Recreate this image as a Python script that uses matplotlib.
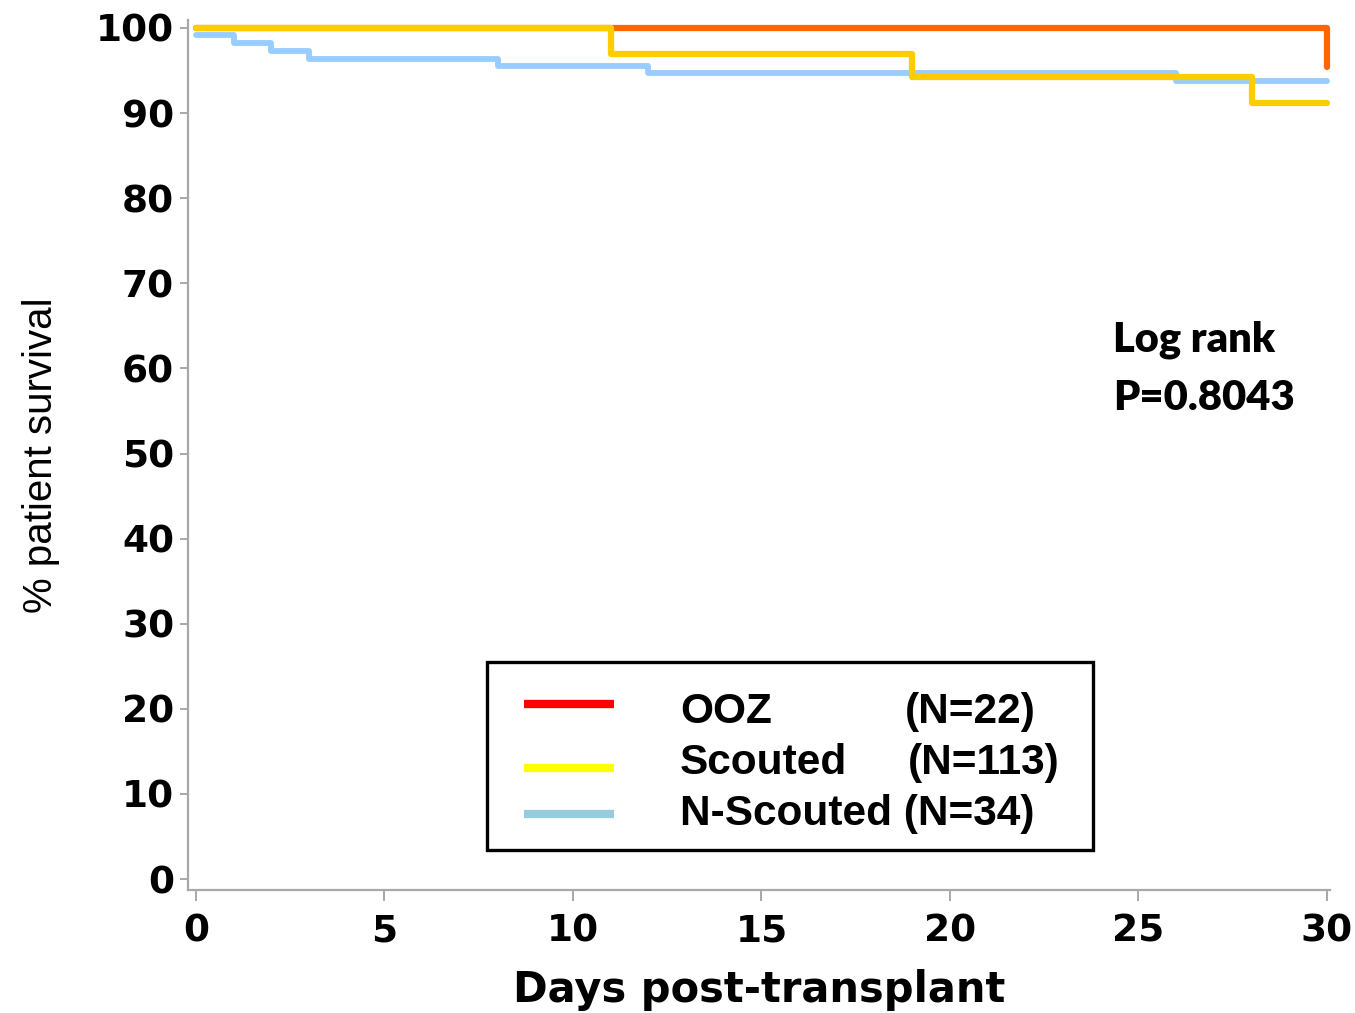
import matplotlib
matplotlib.use("Agg")
import matplotlib.pyplot as plt
from matplotlib.patches import Rectangle
from matplotlib.lines import Line2D

# ---- data ----
ooz_days = [0, 30, 30]
ooz_surv = [100, 100, 95.4]
scouted_days = [0, 11, 19, 28, 30]
scouted_surv = [100, 97.0, 94.2, 91.2, 91.2]
nscout_days = [0, 1, 2, 3, 8, 12, 26, 30]
nscout_surv = [99.2, 98.2, 97.3, 96.4, 95.5, 94.7, 93.8, 93.8]

group_names = ["OOZ", "Scouted", "N-Scouted"]
group_counts = ["(N=22)", "(N=113)", "(N=34)"]
x_ticks = [0, 5, 10, 15, 20, 25, 30]
y_ticks = [0, 10, 20, 30, 40, 50, 60, 70, 80, 90, 100]

W, H = 1355, 1013
fig = plt.figure(figsize=(W / 100, H / 100), dpi=100)
L, R, T, B = 188, 1330, 20, 890
ax = fig.add_axes([L / W, 1 - B / H, (R - L) / W, (B - T) / H])

ax.step(ooz_days, ooz_surv, where="post", color="#FF6600", lw=4.5,
        solid_capstyle="round", zorder=2, clip_on=False)
ax.step(nscout_days, nscout_surv, where="post", color="#99CCFF", lw=4.2,
        solid_capstyle="round", zorder=3, clip_on=False)
ax.step(scouted_days, scouted_surv, where="post", color="#FFCC00", lw=4.5,
        solid_capstyle="round", zorder=4, clip_on=False)

ax.set_xlim(-0.212, 30.08)
ax.set_ylim(-1.29, 100.94)

for s in ["top", "right"]:
    ax.spines[s].set_visible(False)
for s in ["left", "bottom"]:
    ax.spines[s].set_color("#A8A8A8")
    ax.spines[s].set_linewidth(1.6)

ax.set_xticks(x_ticks)
ax.set_yticks(y_ticks)
tick_font = dict(family="DejaVu Sans", weight="bold", size=27)
ax.set_xticklabels([str(v) for v in x_ticks], fontdict=tick_font)
ax.set_yticklabels([str(v) for v in y_ticks], fontdict=tick_font)
ax.tick_params(axis="x", colors="#A8A8A8", labelcolor="black", length=8, width=1.4, pad=9)
ax.tick_params(axis="y", colors="#A8A8A8", labelcolor="black", length=6, width=1.4, pad=4)

ax.set_xlabel("Days post-transplant", family="DejaVu Sans", weight="bold", size=30, labelpad=14)
ax.set_ylabel("% patient survival", family="Liberation Sans", weight="medium", size=29, labelpad=26)

# Log rank annotation
fig.text(1113 / W, 1 - 340 / H, "Log rank", family="Lato", weight="heavy", size=30,
         ha="left", va="center")
fig.text(1113 / W, 1 - 398 / H, "P=0.8043", family="Lato", weight="heavy", size=30,
         ha="left", va="center")

# Legend box (drawn manually)
box = Rectangle((487 / W, 1 - 850 / H), (1093 - 487) / W, (850 - 662) / H,
                transform=fig.transFigure, fill=False, edgecolor="black", lw=2.4)
fig.patches.append(box)
leg_colors = ["#FF0000", "#FFFF00", "#96CCDD"]
handle_y = [704, 768, 814]
text_y = [712, 763, 814]
count_x = [905, 908, 905]
for i in range(3):
    fig.add_artist(Line2D([524 / W, 614 / W], [1 - handle_y[i] / H] * 2,
                          transform=fig.transFigure, color=leg_colors[i], lw=6,
                          solid_capstyle="butt"))
    if i < 2:
        fig.text(680 / W, 1 - text_y[i] / H, group_names[i], family="Liberation Sans",
                 weight="bold", size=30.5, ha="left", va="center")
        fig.text(count_x[i] / W, 1 - text_y[i] / H, group_counts[i], family="Liberation Sans",
                 weight="bold", size=30.5, ha="left", va="center")
    else:
        fig.text(680 / W, 1 - text_y[i] / H, group_names[i] + " " + group_counts[i],
                 family="Liberation Sans", weight="bold", size=30.5, ha="left", va="center")

fig.savefig("out.png", dpi=100)
